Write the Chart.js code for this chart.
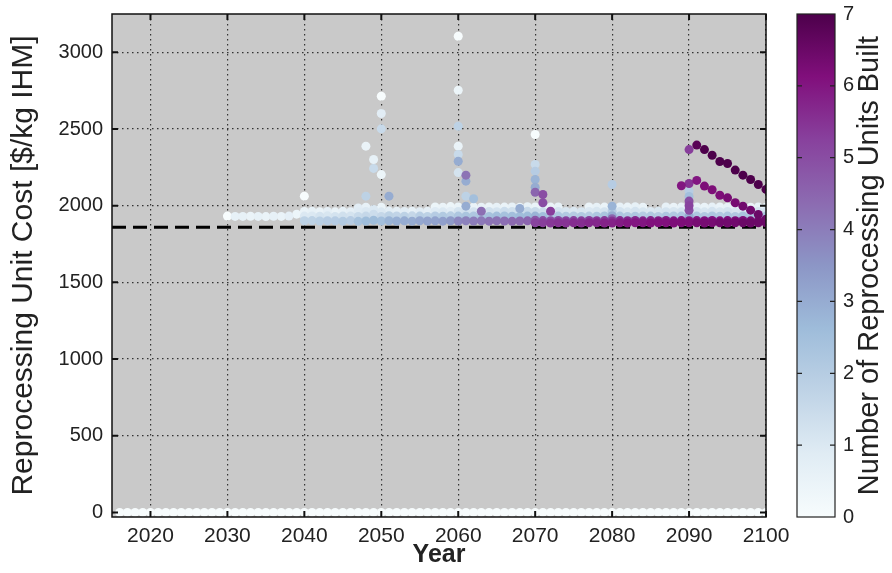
<!DOCTYPE html>
<html>
<head>
<meta charset="utf-8">
<script src="https://cdn.jsdelivr.net/npm/chart.js@4.4.1/dist/chart.umd.min.js"></script>
<style>
  html, body { margin: 0; padding: 0; background: #fff; }
  #wrap { position: relative; width: 892px; height: 573px; }
</style>
</head>
<body>
<div id="wrap"><canvas id="chart"></canvas></div>
<script>
// axis ticks
const yearTicks = [2020, 2030, 2040, 2050, 2060, 2070, 2080, 2090, 2100];
const costTicks = [0, 500, 1000, 1500, 2000, 2500, 3000];
const unitTicks = [0, 1, 2, 3, 4, 5, 6, 7];

// reference cost (dashed line)
const baselineCost = 1860;

// years with zero reprocessing cost
const zeroCostYears = [2016, 2017, 2018, 2019, 2020, 2021, 2022, 2023, 2024, 2025,
  2026, 2027, 2028, 2029, 2030, 2031, 2032, 2033, 2034, 2035, 2036, 2037, 2038, 2039,
  2040, 2041, 2042, 2043, 2044, 2045, 2046, 2047, 2048, 2049, 2050, 2051, 2052, 2053,
  2054, 2055, 2056, 2057, 2058, 2059, 2060, 2061, 2062, 2063, 2064, 2065, 2066, 2067,
  2068, 2069, 2070, 2071, 2072, 2073, 2074, 2075, 2076, 2077, 2078, 2079, 2080, 2081,
  2082, 2083, 2084, 2085, 2086, 2087, 2088, 2089, 2090, 2091, 2092, 2093, 2094, 2095,
  2096, 2097, 2098, 2099, 2100];

// [year, cost, units built]
const band2030s = [
  [2030, 1932, 0], [2031, 1930, 0.6], [2032, 1930, 0.6], [2033, 1931, 0.5], [2034, 1930, 0.6],
  [2035, 1929, 0.5], [2036, 1931, 0.6], [2037, 1930, 0.5], [2038, 1932, 0.7], [2039, 1945, 0.4]
];
const band2040s = [
  [2040, 2062, 0], [2040, 1962, 0.5], [2040, 1932, 1], [2040, 1902, 1.8],
  [2041, 1963, 0.6], [2041, 1933, 1], [2041, 1903, 1.8],
  [2042, 1961, 0.5], [2042, 1931, 1.2], [2042, 1900, 1.9],
  [2043, 1962, 0.7], [2043, 1934, 1.1], [2043, 1902, 2],
  [2044, 1960, 0.5], [2044, 1930, 1.2], [2044, 1901, 2],
  [2045, 1963, 0.6], [2045, 1932, 1.3], [2045, 1899, 2.1],
  [2046, 1961, 0.7], [2046, 1933, 1.2], [2046, 1903, 2],
  [2047, 1985, 0.8], [2047, 1960, 0.9], [2047, 1930, 1.5], [2047, 1898, 2.4],
  [2048, 1990, 0.6], [2048, 1962, 1], [2048, 1932, 1.6], [2048, 1900, 2.6],
  [2049, 1975, 1], [2049, 1945, 1.4], [2049, 1905, 2.6]
];
const band2050s = [
  [2050, 1990, 0.5], [2050, 1960, 1], [2050, 1930, 1.6], [2050, 1900, 2.5],
  [2051, 1965, 0.8], [2051, 1935, 1.8], [2051, 1902, 2.8],
  [2052, 1963, 0.7], [2052, 1933, 1.7], [2052, 1900, 2.9],
  [2053, 1962, 0.8], [2053, 1931, 1.8], [2053, 1901, 3],
  [2054, 1964, 0.6], [2054, 1934, 1.6], [2054, 1899, 3],
  [2055, 1961, 0.8], [2055, 1932, 1.9], [2055, 1902, 3.1],
  [2056, 1963, 0.7], [2056, 1930, 1.8], [2056, 1900, 3.2],
  [2057, 1992, 0.4], [2057, 1962, 0.9], [2057, 1933, 2], [2057, 1901, 3.2],
  [2058, 1990, 0.5], [2058, 1960, 1], [2058, 1931, 2.1], [2058, 1899, 3.3],
  [2059, 1994, 0.4], [2059, 1964, 0.8], [2059, 1934, 1.9], [2059, 1902, 3.4]
];
const band2060s = [
  [2060, 1992, 0.5], [2060, 1962, 1.2], [2060, 1932, 2.2], [2060, 1900, 3.8],
  [2061, 1990, 0.6], [2061, 1963, 1.3], [2061, 1931, 2.3], [2061, 1902, 3.9],
  [2062, 1991, 0.5], [2062, 1961, 1.2], [2062, 1933, 2.2], [2062, 1900, 4],
  [2063, 1990, 0.6], [2063, 1964, 4.3], [2063, 1932, 2.3], [2063, 1901, 4.1],
  [2064, 1992, 0.5], [2064, 1962, 1.3], [2064, 1930, 2.4], [2064, 1899, 4.2],
  [2065, 1990, 0.6], [2065, 1961, 1.2], [2065, 1932, 2.5], [2065, 1902, 4.2],
  [2066, 1991, 0.5], [2066, 1963, 1.4], [2066, 1933, 2.4], [2066, 1900, 4.3],
  [2067, 1992, 0.6], [2067, 1962, 1.3], [2067, 1931, 2.5], [2067, 1898, 4.4],
  [2068, 1990, 0.5], [2068, 1982, 3], [2068, 1960, 1.4], [2068, 1930, 2.6], [2068, 1900, 4.4],
  [2069, 1993, 0.6], [2069, 1963, 1.5], [2069, 1932, 2.6], [2069, 1901, 4.5]
];
const band2070s = [
  [2070, 1992, 0.5], [2070, 1962, 1.5], [2070, 1932, 2.8], [2070, 1905, 4.8], [2070, 1888, 5.2],
  [2071, 1990, 0.6], [2071, 1960, 1.4], [2071, 1930, 2.5], [2071, 1903, 5], [2071, 1888, 5.3],
  [2072, 1991, 0.5], [2072, 1935, 2.2], [2072, 1902, 5], [2072, 1887, 5.4],
  [2073, 1992, 0.6], [2073, 1962, 1.2], [2073, 1932, 2.2], [2073, 1904, 5.1], [2073, 1889, 5.5],
  [2074, 1962, 1.1], [2074, 1931, 2.1], [2074, 1902, 5.2], [2074, 1887, 5.5],
  [2075, 1963, 1], [2075, 1933, 2], [2075, 1903, 5.2], [2075, 1888, 5.6],
  [2076, 1961, 1.1], [2076, 1930, 2.1], [2076, 1901, 5.3], [2076, 1887, 5.6],
  [2077, 1992, 0.5], [2077, 1962, 1], [2077, 1932, 2], [2077, 1904, 5.3], [2077, 1889, 5.7],
  [2078, 1990, 0.6], [2078, 1963, 1.1], [2078, 1931, 2.2], [2078, 1902, 5.4], [2078, 1888, 5.7],
  [2079, 1991, 0.5], [2079, 1961, 1.2], [2079, 1933, 2.3], [2079, 1903, 5.4], [2079, 1887, 5.8]
];
const band2080s = [
  [2080, 1990, 0.5], [2080, 1963, 2], [2080, 1935, 3], [2080, 1915, 4.5], [2080, 1900, 5.5], [2080, 1887, 5.8],
  [2081, 1992, 0.6], [2081, 1962, 1.2], [2081, 1932, 2.2], [2081, 1903, 5.6], [2081, 1888, 5.9],
  [2082, 1991, 0.5], [2082, 1960, 1.1], [2082, 1930, 2.1], [2082, 1902, 5.7], [2082, 1887, 6],
  [2083, 1993, 0.6], [2083, 1963, 1.2], [2083, 1931, 2.2], [2083, 1904, 5.7], [2083, 1889, 6],
  [2084, 1990, 0.5], [2084, 1961, 1.1], [2084, 1933, 2], [2084, 1901, 5.8], [2084, 1888, 6],
  [2085, 1962, 1], [2085, 1932, 2.1], [2085, 1903, 5.8], [2085, 1887, 6.1],
  [2086, 1963, 1.1], [2086, 1930, 2], [2086, 1902, 5.9], [2086, 1889, 6.1],
  [2087, 1992, 0.6], [2087, 1961, 1.2], [2087, 1931, 2.2], [2087, 1904, 5.9], [2087, 1888, 6.1],
  [2088, 1990, 0.5], [2088, 1962, 1.1], [2088, 1933, 2.1], [2088, 1901, 6], [2088, 1887, 6.2],
  [2089, 1991, 0.6], [2089, 1960, 1.2], [2089, 1932, 2.2], [2089, 1903, 6], [2089, 1888, 6.2]
];
const band2090s = [
  [2090, 1990, 0.6], [2090, 1962, 1.2], [2090, 1932, 3], [2090, 1902, 6], [2090, 1888, 6.2],
  [2091, 1992, 0.6], [2091, 1962, 1.2], [2091, 1932, 2.2], [2091, 1903, 6], [2091, 1888, 6.3],
  [2092, 1990, 0.5], [2092, 1960, 1.1], [2092, 1930, 2.1], [2092, 1902, 6.1], [2092, 1887, 6.3],
  [2093, 1991, 0.6], [2093, 1963, 1.2], [2093, 1933, 2.2], [2093, 1904, 6.1], [2093, 1889, 6.3],
  [2094, 1992, 0.5], [2094, 1961, 1.1], [2094, 1931, 2.1], [2094, 1901, 6.1], [2094, 1888, 6.4],
  [2095, 1990, 0.6], [2095, 1962, 1.2], [2095, 1932, 2.2], [2095, 1903, 6.2], [2095, 1887, 6.4],
  [2096, 1993, 0.5], [2096, 1960, 1.1], [2096, 1930, 2.1], [2096, 1902, 6.2], [2096, 1889, 6.4],
  [2097, 1991, 0.6], [2097, 1963, 1.2], [2097, 1933, 2.3], [2097, 1904, 6.2], [2097, 1888, 6.5],
  [2098, 1990, 0.5], [2098, 1961, 1.1], [2098, 1931, 2.2], [2098, 1901, 6.3], [2098, 1887, 6.5],
  [2099, 1992, 0.6], [2099, 1962, 1.2], [2099, 1932, 2.3], [2099, 1903, 6.3], [2099, 1889, 6.5],
  [2100, 1990, 0.6], [2100, 1962, 1.2], [2100, 1932, 2.3], [2100, 1904, 6.3], [2100, 1889, 6.5]
];
// tall columns in the build years
const spikePoints = [
  [2048, 2388, 0.5], [2048, 2062, 1.8], [2049, 2301, 0.6], [2049, 2243, 1.5],
  [2050, 2714, 0], [2050, 2601, 0.8], [2050, 2501, 1.5], [2050, 2203, 0.4], [2051, 2062, 3],
  [2060, 3105, 0], [2060, 2753, 0.4], [2060, 2518, 1.8], [2060, 2388, 0.5], [2060, 2334, 1.5],
  [2060, 2290, 3], [2060, 2216, 1.2], [2061, 2199, 4.2], [2061, 2160, 3], [2061, 2062, 1.8],
  [2061, 1997, 3], [2062, 2045, 2.5],
  [2070, 2464, 0], [2070, 2269, 1.5], [2070, 2225, 2], [2070, 2171, 2.8], [2070, 2120, 3],
  [2070, 2088, 4.5], [2071, 2073, 5], [2071, 2019, 5], [2072, 1964, 5.3],
  [2080, 2138, 2], [2080, 1997, 2.8],
  [2090, 2095, 2], [2090, 2060, 2.5], [2090, 2030, 5], [2090, 2000, 5.2], [2090, 1970, 5]
];
const lowerCurve = [
  [2089, 2130, 6], [2090, 2145, 5.5], [2091, 2165, 6], [2092, 2128, 6.2], [2093, 2104, 6.2],
  [2094, 2068, 6.2], [2095, 2051, 6.3], [2096, 2019, 6.3], [2097, 1997, 6.4], [2098, 1971, 6.4],
  [2099, 1943, 6.5], [2100, 1912, 6.5]
];
const upperCurve = [
  [2090, 2366, 5.3], [2091, 2395, 6.8], [2092, 2366, 7], [2093, 2329, 7], [2094, 2288, 7],
  [2095, 2275, 7], [2096, 2232, 7], [2097, 2199, 7], [2098, 2171, 7], [2099, 2138, 7],
  [2100, 2106, 7]
];

// BuPu colour map
const bupu = ['#f7fcfd', '#e0ecf4', '#bfd3e6', '#9ebcda', '#8c96c6', '#8c6bb1', '#88419d', '#810f7c', '#4d004b'];
const hexRgb = h => [1, 3, 5].map(i => parseInt(h.slice(i, i + 2), 16));
function unitColor(u) {
  const t = Math.max(0, Math.min(1, u / 7)) * (bupu.length - 1);
  const i = Math.min(Math.floor(t), bupu.length - 2);
  const f = t - i;
  const a = hexRgb(bupu[i]), b = hexRgb(bupu[i + 1]);
  const c = a.map((v, k) => Math.round(v + (b[k] - v) * f));
  return `rgb(${c[0]},${c[1]},${c[2]})`;
}

const allPoints = zeroCostYears.map(y => [y, 0, 0])
  .concat(band2030s, band2040s, band2050s, band2060s, band2070s, band2080s, band2090s,
    spikePoints, lowerCurve, upperCurve)
  .map(p => ({ x: p[0], y: p[1], u: p[2] }))
  .sort((a, b) => a.u - b.u);

const textColor = '#222';
const fontFamily = '"Liberation Sans", Arial, sans-serif';

// vertical axes: keep their label padding from pushing the plot area
const noVPad = s => { s.paddingTop = 0; s.paddingBottom = 0; };

const plotFrame = {
  id: 'plotFrame',
  beforeDraw(chart) {
    const { ctx, chartArea: a } = chart;
    ctx.save();
    ctx.fillStyle = '#c9c9c9';
    ctx.fillRect(a.left, a.top, a.width, a.height);
    ctx.restore();
  },
  afterDraw(chart) {
    const { ctx, chartArea: a, scales } = chart;
    ctx.save();
    // inward ticks
    ctx.strokeStyle = '#111';
    ctx.lineWidth = 2;
    ctx.beginPath();
    scales.x.ticks.forEach(t => {
      const px = scales.x.getPixelForValue(t.value);
      ctx.moveTo(px, a.bottom); ctx.lineTo(px, a.bottom - 6);
      ctx.moveTo(px, a.top); ctx.lineTo(px, a.top + 6);
    });
    scales.y.ticks.forEach(t => {
      const py = scales.y.getPixelForValue(t.value);
      ctx.moveTo(a.left, py); ctx.lineTo(a.left + 6, py);
      ctx.moveTo(a.right, py); ctx.lineTo(a.right - 6, py);
    });
    ctx.stroke();
    ctx.lineWidth = 1.5;
    ctx.strokeRect(a.left, a.top, a.width, a.height);

    // colour bar
    const cb = scales.cb;
    const x0 = a.right + 31, x1 = a.right + 69;
    const yb = cb.getPixelForValue(0), yt = cb.getPixelForValue(7);
    const g = ctx.createLinearGradient(0, yb, 0, yt);
    bupu.forEach((c, i) => g.addColorStop(i / (bupu.length - 1), c));
    ctx.fillStyle = g;
    ctx.fillRect(x0, yt, x1 - x0, yb - yt);
    ctx.lineWidth = 1.2;
    ctx.strokeStyle = '#222';
    ctx.strokeRect(x0, yt, x1 - x0, yb - yt);
    ctx.beginPath();
    unitTicks.slice(1, -1).forEach(v => {
      const py = cb.getPixelForValue(v);
      ctx.moveTo(x0, py); ctx.lineTo(x0 + 5, py);
      ctx.moveTo(x1, py); ctx.lineTo(x1 - 5, py);
    });
    ctx.stroke();

    ctx.translate(a.right + 104, (a.top + a.bottom) / 2);
    ctx.rotate(-Math.PI / 2);
    ctx.fillStyle = textColor;
    ctx.font = '29px ' + fontFamily;
    ctx.textAlign = 'center';
    ctx.textBaseline = 'middle';
    ctx.fillText('Number of Reprocessing Units Built', 0, 0);
    ctx.restore();
  }
};

new Chart(document.getElementById('chart'), {
  type: 'scatter',
  data: {
    datasets: [
      {
        data: allPoints,
        pointRadius: 4.5,
        pointBorderWidth: 0,
        pointHoverRadius: 4.5,
        backgroundColor: ctx => unitColor(ctx.raw ? ctx.raw.u : 0),
        order: 1
      },
      {
        type: 'line',
        data: [{ x: 2015, y: baselineCost }, { x: 2100, y: baselineCost }],
        borderColor: '#000',
        borderWidth: 3,
        borderDash: [14, 7],
        pointRadius: 0,
        order: 2
      }
    ]
  },
  options: {
    responsive: true,
    maintainAspectRatio: false,
    animation: false,
    layout: { padding: { top: 14, right: 0, bottom: 0, left: 0 } },
    plugins: { legend: { display: false }, tooltip: { enabled: false } },
    scales: {
      x: {
        type: 'linear',
        min: 2015,
        max: 2100,
        afterBuildTicks: s => { s.ticks = yearTicks.map(v => ({ value: v })); },
        afterFit: s => { s.height = 56; },
        grid: { color: '#333', lineWidth: 1.2, drawTicks: false },
        border: { display: false, dash: [1.5, 3.5] },
        ticks: { padding: 7, color: textColor, font: { family: fontFamily, size: 21 }, callback: v => String(v) },
        title: { display: true, text: 'Year', color: textColor, padding: { top: 0, bottom: 3 },
          font: { family: fontFamily, size: 25, weight: 'bold' } }
      },
      y: {
        min: -30,
        max: 3250,
        afterBuildTicks: s => { s.ticks = costTicks.map(v => ({ value: v })); },
        afterFit: s => { s.width = 112; noVPad(s); },
        grid: { color: '#333', lineWidth: 1.2, drawTicks: false },
        border: { display: false, dash: [1.5, 3.5] },
        ticks: { padding: 9, color: textColor, font: { family: fontFamily, size: 20 }, callback: v => String(v) },
        title: { display: true, text: 'Reprocessing Unit Cost [$/kg IHM]', color: textColor,
          padding: { top: 6, bottom: 0 }, font: { family: fontFamily, size: 30 } }
      },
      cb: {
        position: 'right',
        min: 0,
        max: 7,
        afterBuildTicks: s => { s.ticks = unitTicks.map(v => ({ value: v })); },
        afterFit: s => { s.width = 126; noVPad(s); },
        grid: { display: false, drawTicks: false },
        border: { display: false },
        ticks: { padding: 77, color: textColor, font: { family: fontFamily, size: 20 } }
      }
    }
  },
  plugins: [plotFrame]
});
</script>
</body>
</html>
